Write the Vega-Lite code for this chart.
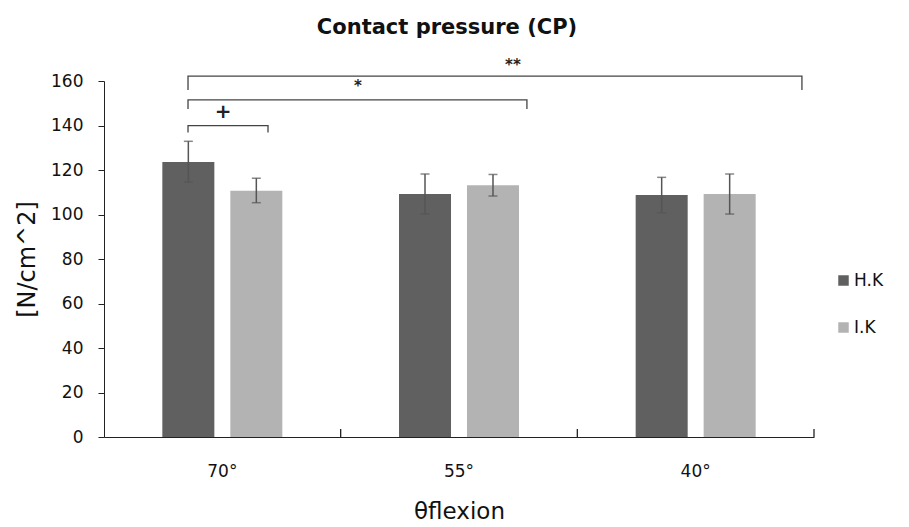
{
  "$schema": "https://vega.github.io/schema/vega-lite/v6.json",
  "width": 710,
  "height": 356,
  "autosize": "none",
  "padding": {"left": 104, "top": 81, "right": 95, "bottom": 90},
  "background": "white",
  "config": {
    "font": "DejaVu Sans",
    "view": {"stroke": null},
    "axis": {"labelFont": "DejaVu Sans", "titleFont": "DejaVu Sans", "labelColor": "#111", "titleColor": "#111", "domainColor": "#222", "tickColor": "#222", "grid": false},
    "legend": {"labelFont": "DejaVu Sans"}
  },
  "title": {"text": "Contact pressure (CP)", "font": "DejaVu Sans", "fontSize": 21, "fontWeight": "bold", "color": "#111", "anchor": "middle", "offset": 20, "dx": -12},
  "datasets": {
    "bars": [
      {"angle": "70°", "group": "H.K", "mean": 123.6, "lo": 114.6, "hi": 132.9},
      {"angle": "70°", "group": "I.K", "mean": 110.7, "lo": 105.3, "hi": 116.3},
      {"angle": "55°", "group": "H.K", "mean": 109.2, "lo": 100.3, "hi": 118.2},
      {"angle": "55°", "group": "I.K", "mean": 113.1, "lo": 108.3, "hi": 118.0},
      {"angle": "40°", "group": "H.K", "mean": 108.8, "lo": 100.8, "hi": 116.7},
      {"angle": "40°", "group": "I.K", "mean": 109.2, "lo": 100.2, "hi": 118.2}
    ],
    "brackets": [
      {"b": "plus", "seq": 1, "bx": 0.355, "by": 136.8},
      {"b": "plus", "seq": 2, "bx": 0.355, "by": 139.9},
      {"b": "plus", "seq": 3, "bx": 0.693, "by": 139.9},
      {"b": "plus", "seq": 4, "bx": 0.693, "by": 136.8},
      {"b": "one", "seq": 1, "bx": 0.355, "by": 147.4},
      {"b": "one", "seq": 2, "bx": 0.355, "by": 151.5},
      {"b": "one", "seq": 3, "bx": 1.787, "by": 151.5},
      {"b": "one", "seq": 4, "bx": 1.787, "by": 147.4},
      {"b": "two", "seq": 1, "bx": 0.355, "by": 156.0},
      {"b": "two", "seq": 2, "bx": 0.355, "by": 162.2},
      {"b": "two", "seq": 3, "bx": 2.949, "by": 162.2},
      {"b": "two", "seq": 4, "bx": 2.949, "by": 156.0}
    ],
    "marks": [
      {"tx": 0.503, "ty": 146.2, "label": "+", "sz": 20},
      {"tx": 1.073, "ty": 157.9, "label": "*", "sz": 15},
      {"tx": 1.728, "ty": 167.2, "label": "**", "sz": 15}
    ],
    "xticks": [
      {"tx": 1, "y0": 0, "y1": 3.6},
      {"tx": 2, "y0": 0, "y1": 3.6},
      {"tx": 3, "y0": 0, "y1": 3.6}
    ]
  },
  "layer": [
    {
      "data": {"name": "bars"},
      "encoding": {
        "x": {"field": "angle", "type": "nominal", "sort": ["70°", "55°", "40°"],
          "scale": {"paddingInner": 0, "paddingOuter": 0},
          "axis": {"title": "θflexion", "titleFontSize": 23, "titleFontWeight": "normal", "titlePadding": 21, "labelAngle": 0, "labelFontSize": 17, "ticks": false, "labelPadding": 26}},
        "xOffset": {"field": "group", "type": "nominal", "scale": {"paddingInner": 0.235, "paddingOuter": 0.858}}
      },
      "layer": [
        {
          "mark": {"type": "bar"},
          "encoding": {
            "y": {"field": "mean", "type": "quantitative", "scale": {"domain": [0, 160], "nice": false},
              "axis": {"title": "[N/cm^2]", "titleFontSize": 24, "titleFontWeight": "normal", "titlePadding": 11, "labelFontSize": 17, "labelOverlap": false, "values": [0, 20, 40, 60, 80, 100, 120, 140, 160], "tickSize": 6, "labelPadding": 15}},
            "color": {"field": "group", "type": "nominal",
              "scale": {"domain": ["H.K", "I.K"], "range": ["#606060", "#b3b3b3"]},
              "legend": {"title": null, "orient": "none", "legendX": 731, "legendY": 191, "symbolType": "square", "symbolSize": 110, "symbolStrokeWidth": 0, "labelFontSize": 17, "labelColor": "#111", "rowPadding": 29, "labelOffset": 2}}
          }
        },
        {
          "mark": {"type": "rule", "color": "#555555", "strokeWidth": 1.5},
          "encoding": {"y": {"field": "lo", "type": "quantitative"}, "y2": {"field": "hi"}}
        },
        {
          "mark": {"type": "tick", "color": "#555555", "orient": "horizontal", "size": 9, "thickness": 1.5},
          "encoding": {"y": {"field": "hi", "type": "quantitative"}}
        },
        {
          "mark": {"type": "tick", "color": "#555555", "orient": "horizontal", "size": 9, "thickness": 1.5},
          "encoding": {"y": {"field": "lo", "type": "quantitative"}}
        }
      ]
    },
    {
      "layer": [
        {
          "data": {"name": "brackets"},
          "mark": {"type": "line", "color": "#444444", "strokeWidth": 1.3, "clip": false},
          "encoding": {
            "x": {"field": "bx", "type": "quantitative", "scale": {"domain": [0, 3], "nice": false, "zero": false}, "axis": null},
            "y": {"field": "by", "type": "quantitative"},
            "detail": {"field": "b"},
            "order": {"field": "seq"}
          }
        },
        {
          "data": {"name": "xticks"},
          "mark": {"type": "rule", "color": "#222", "strokeWidth": 1.3},
          "encoding": {
            "x": {"field": "tx", "type": "quantitative", "axis": null},
            "y": {"field": "y0", "type": "quantitative"},
            "y2": {"field": "y1"}
          }
        },
        {
          "data": {"name": "marks"},
          "mark": {"type": "text", "color": "#222", "fontWeight": "bold", "clip": false},
          "encoding": {
            "x": {"field": "tx", "type": "quantitative", "axis": null},
            "y": {"field": "ty", "type": "quantitative"},
            "text": {"field": "label"},
            "size": {"field": "sz", "type": "quantitative", "scale": null}
          }
        }
      ]
    }
  ],
  "resolve": {"scale": {"x": "independent"}}
}
